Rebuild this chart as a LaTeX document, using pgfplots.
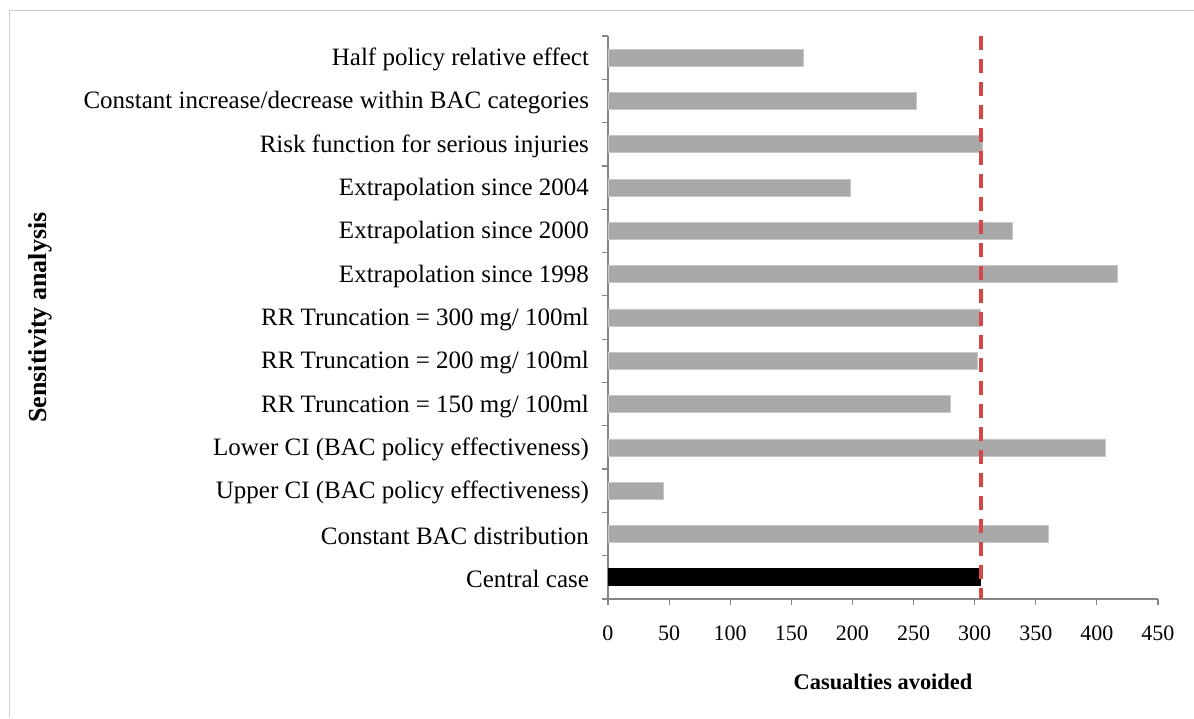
\documentclass[border=0pt]{standalone}
\usepackage{pgfplots}
\pgfplotsset{compat=1.18}
\usepackage{fontspec}
\setmainfont{Liberation Serif}
\definecolor{barg}{RGB}{168,168,168}
\definecolor{bard}{RGB}{200,200,200}
\definecolor{axg}{RGB}{134,134,134}
\definecolor{redl}{RGB}{212,72,72}
\definecolor{frameg}{RGB}{205,205,205}
\begin{document}
\begin{tikzpicture}
\useasboundingbox (0,0) rectangle (597pt,359pt);
\draw[frameg, line width=0.8pt] (4.75pt,0pt) -- (4.75pt,353.75pt) -- (597pt,353.75pt);
\begin{axis}[
  at={(304pt,59.5pt)}, anchor=south west,
  scale only axis, width=275pt, height=281.5pt,
  xmin=0, xmax=450, ymin=-0.5, ymax=12.5,
  axis lines=left,
  axis line style={-, axg, line width=0.6pt},
  xtick={0,50,...,450},
  ytick={-0.5,0.5,...,12.5},
  y tick label as interval,
  yticklabels={Central case, Constant BAC distribution, Upper CI (BAC policy effectiveness), Lower CI (BAC policy effectiveness), RR Truncation = 150 mg/ 100ml, RR Truncation = 200 mg/ 100ml, RR Truncation = 300 mg/ 100ml, Extrapolation since 1998, Extrapolation since 2000, Extrapolation since 2004, Risk function for serious injuries, Constant increase/decrease within BAC categories, Half policy relative effect},
  tick style={axg, line width=0.6pt},
  tick align=outside,
  major tick length=3pt,
  xticklabel style={font=\fontsize{11}{13}\selectfont, yshift=-7pt},
  yticklabel style={font=\fontsize{12.5}{14}\selectfont, xshift=-3pt, yshift=-1pt},
  /pgf/number format/assume math mode=true,
  xlabel={Casualties avoided},
  xlabel style={font=\fontsize{11.2}{13}\selectfont\bfseries, at={(axis description cs:0.5,0)}, anchor=center, yshift=-41.5pt},
  clip=false,
]
\addplot[xbar, bar width=8.5pt, bar shift=0pt, fill=barg, draw=bard, line width=0.4pt] coordinates {
  (360,1) (45,2) (407,3) (280,4) (302,5) (305,6) (417,7) (331,8) (198,9) (306,10) (252,11) (160,12)
};
\addplot[xbar, bar width=8.5pt, bar shift=0pt, fill=black, draw=black] coordinates {(305,0)};
\addplot[redl, line width=2pt, dash pattern=on 7pt off 4.5pt] coordinates {(305,12.5) (305,-0.5)};
\node[rotate=90, anchor=center, font=\fontsize{13}{15}\selectfont\bfseries] at ([xshift=-284pt]rel axis cs:0,0.5) {Sensitivity analysis};
\end{axis}
\end{tikzpicture}
\end{document}
